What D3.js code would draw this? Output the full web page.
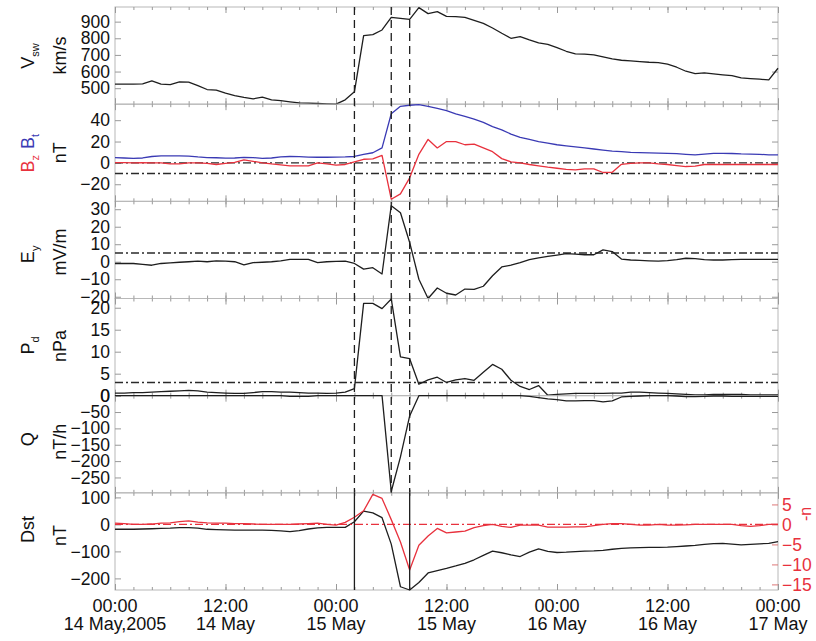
<!DOCTYPE html>
<html>
<head>
<meta charset="utf-8">
<script src="https://cdn.jsdelivr.net/npm/d3@7"></script>
<style>
  body { margin: 0; background: #fff; }
  text { font-family: "Liberation Sans", Arial, sans-serif; }
</style>
</head>
<body>
<div id="chart"></div>
<script>
// hourly values, 00:00 14 May 2005 .. 00:00 17 May 2005 (73 points)
const vsw = [524,524,524,526,544,524,522,538,537,516,
  492,488,470,456,445,436,446,430,425,418,
  412,410,408,406,404,430,478,816,822,850,
  926,920,914,984,948,960,932,930,926,908,
  890,862,830,800,810,790,772,764,744,722,
  706,705,700,688,676,668,664,660,656,654,
  644,626,602,588,592,586,580,575,562,558,
  554,550,620];
const bt = [5,4.6,4.2,4.6,6,6.5,6.6,6.6,6.4,5.6,
  5,4.8,4.4,4.6,5.2,5,4.2,4.6,5.6,6,
  5.8,5.4,5.3,5.3,5.4,5.6,6,8,9.5,14,
  46,53,54,54.5,53,51,49,46,43.5,41,
  38,34,31,27,24,22,20,18.5,17,16,
  15,14,13,12,11,10.5,9.8,9.6,9.4,9.2,
  9,8.6,8,7.5,8.2,9,9,8.8,8.4,8.2,
  8,7.6,7.5];
const bz = [0.3,0.2,0,0.3,0,0,-1,-1,0,0,
  -0.5,-1.5,-0.5,0.5,2.8,1.5,0,-1,-1.8,-2.8,
  -2.8,-2.8,0,-1,-2,-1.5,1,3.4,3.7,7,
  -34,-29,-14,8,22,14,20,20,17,17.5,
  14,10.5,4,1,0,-1.5,-2.8,-4,-5,-6,
  -6.6,-5.6,-5.6,-9,-8.8,-1.3,-0.5,0,0,-1,
  -1.5,-2.5,-3.4,-3,-1.5,-1.5,-1.5,-1.5,-1.5,-1.5,
  -1.5,-1.5,-1.5];
const ey = [-1,-1,-1,-1.5,-2,-1,-0.7,-0.3,0,0.3,
  0,0.5,0.3,0,-1.8,-0.5,-0.3,0,0.5,1.3,
  1.3,1.3,-0.5,0,0.2,0.3,-1,-4.2,-3.4,-7,
  32,28,11,-10,-21,-15,-18,-19,-15.6,-15.8,
  -14,-8,-3,-2,-0.5,1.2,2.2,3,3.8,4.6,
  4.4,4,4,6.8,5.8,1.5,1,0.8,0.5,0.3,
  0.6,1.2,2,1.8,1.2,1,1,1.2,1.3,1.3,
  1.3,1.3,1.3];
const pd = [0.6,0.6,0.7,0.7,0.8,0.9,1.0,1.1,1.2,1.1,
  0.8,0.7,0.6,0.5,0.5,0.7,0.9,0.9,0.8,0.8,
  0.7,0.6,0.6,0.5,0.6,0.8,1.6,21,21,19.8,
  22,8.8,8.4,2.6,3.6,4.2,3,3.6,3.9,3.5,
  5.3,7.1,6,3.5,2.1,1.4,2.3,0.1,0.3,0.4,
  0.5,0.5,0.5,0.5,0.6,0.6,0.8,0.8,0.7,0.6,
  0.5,0.4,0.3,0.2,0.2,0.3,0.3,0.3,0.3,0.2,
  0.2,0.2,0.2];
const q = [0,0,0,0,0,0,0,0,0,0,
  0,0,0,0,0,0,0,0,0,-2,
  -2,-2,0,0,0,0,0,0,0,0,
  -293,-187,-62,0,0,0,0,0,0,0,
  0,0,0,0,0,-2,-6,-10,-12,-16,
  -16,-15,-15,-19,-16,-4,-2,-1,0,0,
  0,-1,-3,-3,-2,-1,-1,-2,-2,-2,
  -2,-2,-2];
const dst = [-18,-18,-18,-17,-16,-15,-14,-12,-12,-14,
  -18,-19,-20,-21,-21,-21,-21,-22,-24,-27,
  -23,-17,-13,-11,-11,-11,10,49,43,25,
  -73,-231,-243,-215,-180,-171,-163,-154,-144,-131,
  -115,-99,-105,-113,-119,-103,-91,-100,-104,-103,
  -101,-99,-98,-96,-92,-89,-87,-86,-85,-85,
  -84,-82,-80,-78,-74,-71,-70,-73,-76,-74,
  -72,-70,-64];
const dstRed = [0.3,0.2,0,0,0.1,0.3,0.4,0.7,0.9,0.6,
  0.4,0.3,0.3,0.2,0.2,0.1,0,0,0,0,
  0.1,0.2,0.3,0,-0.2,0.5,1.8,3.4,7.5,6.5,
  1.2,-4.4,-11.4,-5.2,-2.9,-1,-2.1,-1.9,-1.7,-0.8,
  -0.3,0,-0.5,-0.75,-0.2,-0.2,-0.2,-0.7,-0.7,-0.7,
  -0.6,-0.6,-0.3,0,0.2,0.2,0,-0.2,-0.2,0,
  -0.2,-0.2,-0.1,0,0,0,0,0,-0.3,-0.5,
  -0.3,0,0];

// tick values
const vswTicks = [500, 600, 700, 800, 900];
const bTicks = [-20, 0, 20, 40];
const eyTicks = [-20, -10, 0, 10, 20, 30];
const pdTicks = [0, 5, 10, 15, 20];
const qTicks = [-250, -200, -150, -100, -50, 0];
const dstTicks = [-200, -100, 0, 100];
const redTicks = [-15, -10, -5, 0, 5];
const timeTickLabels = [["00:00", "14 May,2005"], ["12:00", "14 May"], ["00:00", "15 May"],
  ["12:00", "15 May"], ["00:00", "16 May"], ["12:00", "16 May"], ["00:00", "17 May"]];
const eventHours = [26, 30, 32];
const dstEventHours = [26, 32];

const black = "#1e1e1e", blue = "#3a3ab4", red = "#e8313d";

// svg container
const svgWidth = 816, svgHeight = 641;
const plotLeft = 115, plotRight = 778, plotTop = 7, plotBottom = 590;
const chartWidth = plotRight - plotLeft;
const panelHeight = (plotBottom - plotTop) / 6;

const svg = d3.select("#chart").append("svg")
  .attr("width", svgWidth)
  .attr("height", svgHeight);

const chartGroup = svg.append("g")
  .attr("transform", `translate(${plotLeft}, 0)`);

// time scale
const start = Date.UTC(2005, 4, 14);
const times = d3.range(vsw.length).map(h => new Date(start + h * 3600e3));
const xScale = d3.scaleUtc()
  .domain([times[0], times[times.length - 1]])
  .range([0, chartWidth]);
const majorTimes = xScale.ticks(d3.utcHour.every(12));
const minorTimes = xScale.ticks(d3.utcHour.every(2));

const panels = [
  { domain: [404, 988], ticks: vswTicks, series: [[vsw, black]], refs: [],
    label: [[{ t: "V" }, { t: "sw", sub: true }]], unit: "km/s", ly: 0 },
  { domain: [-36, 55], ticks: bTicks, series: [[bt, blue], [bz, red]], refs: [0, -10],
    label: [[{ t: "B", c: red }, { t: "z", sub: true, c: red }, { t: " B", c: blue }, { t: "t", sub: true, c: blue }]], unit: "nT", ly: 0 },
  { domain: [-21, 34.5], ticks: eyTicks, series: [[ey, black]], refs: [5],
    label: [[{ t: "E" }, { t: "y", sub: true }]], unit: "mV/m", ly: 4 },
  { domain: [0, 22.1], ticks: pdTicks, series: [[pd, black]], refs: [3],
    label: [[{ t: "P" }, { t: "d", sub: true }]], unit: "nPa", ly: -2 },
  { domain: [-297, 0], ticks: qTicks, series: [[q, black]], refs: [],
    label: [[{ t: "Q" }]], unit: "nT/h", ly: -5 },
  { domain: [-243, 117], ticks: dstTicks, series: [[dst, black]], refs: [],
    label: [[{ t: "Dst" }]], unit: "nT", ly: -12 }
];

const lastY = {};

panels.forEach((p, i) => {
  const top = plotTop + i * panelHeight;
  const bottom = top + panelHeight;
  const y = d3.scaleLinear().domain(p.domain).range([bottom, top]);
  lastY.scale = y; lastY.top = top; lastY.bottom = bottom;
  const g = chartGroup.append("g");

  // frame
  g.append("rect")
    .attr("x", 0).attr("y", top)
    .attr("width", chartWidth).attr("height", panelHeight)
    .attr("fill", "none").attr("stroke", "#b8b8b8");

  // time ticks, top and bottom
  [[d3.axisBottom, bottom], [d3.axisTop, top]].forEach(([ax, yy]) => {
    g.append("g").attr("transform", `translate(0, ${yy})`)
      .call(ax(xScale).tickValues(minorTimes).tickSize(-3).tickFormat(""))
      .call(s => s.select(".domain").remove())
      .selectAll("line").attr("stroke", "#999");
    g.append("g").attr("transform", `translate(0, ${yy})`)
      .call(ax(xScale).tickValues(majorTimes).tickSize(-6).tickFormat(""))
      .call(s => s.select(".domain").remove())
      .selectAll("line").attr("stroke", "#999");
  });

  // left axis
  const left = g.append("g")
    .call(d3.axisLeft(y).tickValues(p.ticks).tickSize(-6).tickPadding(5))
    .call(s => s.select(".domain").remove());
  left.selectAll("line").attr("stroke", "#999");
  left.selectAll("text").attr("font-size", 17.5).attr("fill", "#111")
    .attr("font-family", "Liberation Sans, Arial, sans-serif");

  // right mirrored ticks (not on the Dst panel)
  if (i < 5) {
    g.append("g").attr("transform", `translate(${chartWidth}, 0)`)
      .call(d3.axisRight(y).tickValues(p.ticks).tickSize(-6).tickFormat(""))
      .call(s => s.select(".domain").remove())
      .selectAll("line").attr("stroke", "#999");
  }

  // reference dash-dot lines
  p.refs.forEach(r => {
    g.append("line")
      .attr("x1", 0).attr("x2", chartWidth)
      .attr("y1", y(r)).attr("y2", y(r))
      .attr("stroke", "#2a2a2a").attr("stroke-width", 1.4)
      .attr("stroke-dasharray", "8,3,2,3");
  });

  // series
  const line = d3.line()
    .x((d, j) => xScale(times[j]))
    .y(d => y(d));
  p.series.forEach(([vals, col]) => {
    g.append("path")
      .datum(vals)
      .attr("d", line)
      .attr("fill", "none")
      .attr("stroke", col)
      .attr("stroke-width", 1.3)
      .attr("stroke-linejoin", "round");
  });

  // y labels (rotated)
  const cy = (top + bottom) / 2 + p.ly;
  const lab = svg.append("text")
    .attr("transform", `translate(28, ${cy}) rotate(-90)`)
    .attr("text-anchor", "middle")
    .attr("dy", "0.35em")
    .attr("font-size", 18)
    .attr("fill", "#111");
  p.label[0].forEach(seg => {
    const ts = lab.append("tspan").text(seg.t);
    if (seg.c) ts.attr("fill", seg.c);
    if (seg.sub) {
      ts.attr("font-size", 11).attr("dy", 5);
      lab.append("tspan").attr("font-size", 11).attr("dy", -5).text("\u200a");
    }
  });
  svg.append("text")
    .attr("transform", `translate(60, ${(top + bottom) / 2 + p.ly / 2}) rotate(-90)`)
    .attr("text-anchor", "middle")
    .attr("dy", "0.35em")
    .attr("font-size", 18)
    .attr("fill", "#111")
    .text(p.unit);
});

// red right axis on Dst panel
const yRed = d3.scaleLinear().domain([-16.4, 7.9]).range([lastY.bottom, lastY.top]);
const rightAxis = chartGroup.append("g")
  .attr("transform", `translate(${chartWidth}, 0)`)
  .call(d3.axisRight(yRed).tickValues(redTicks).tickSize(-6).tickPadding(4))
  .call(s => s.select(".domain").remove());
rightAxis.selectAll("line").attr("stroke", "#d77");
rightAxis.selectAll("text").attr("font-size", 17.5).attr("fill", red)
  .attr("font-family", "Liberation Sans, Arial, sans-serif");

chartGroup.append("line")
  .attr("x1", 0).attr("x2", chartWidth)
  .attr("y1", yRed(0)).attr("y2", yRed(0))
  .attr("stroke", red).attr("stroke-width", 1.4)
  .attr("stroke-dasharray", "8,3,2,3");

chartGroup.append("path")
  .datum(dstRed)
  .attr("d", d3.line().x((d, j) => xScale(times[j])).y(d => yRed(d)))
  .attr("fill", "none")
  .attr("stroke", red)
  .attr("stroke-width", 1.3)
  .attr("stroke-linejoin", "round");

svg.append("text")
  .attr("transform", `translate(811, 514) rotate(-90)`)
  .attr("text-anchor", "middle")
  .attr("font-size", 16)
  .attr("fill", red)
  .text("-n");

// event lines: dashed through panels 1-5, solid in Dst panel
const dashBottom = plotTop + 5 * panelHeight;
eventHours.forEach(h => {
  const x = xScale(times[h]);
  chartGroup.append("line")
    .attr("x1", x).attr("x2", x)
    .attr("y1", plotTop).attr("y2", dashBottom)
    .attr("stroke", black).attr("stroke-width", 1.3)
    .attr("stroke-dasharray", "8,5");
});
dstEventHours.forEach(h => {
  const x = xScale(times[h]);
  chartGroup.append("line")
    .attr("x1", x).attr("x2", x)
    .attr("y1", dashBottom).attr("y2", plotBottom)
    .attr("stroke", black).attr("stroke-width", 1.3);
});

// time labels
majorTimes.forEach((t, k) => {
  const tx = chartGroup.append("text")
    .attr("text-anchor", "middle")
    .attr("font-size", 18)
    .attr("fill", "#111");
  tx.append("tspan").attr("x", xScale(t)).attr("y", 612).text(timeTickLabels[k][0]);
  tx.append("tspan").attr("x", xScale(t)).attr("y", 630).text(timeTickLabels[k][1]);
});
</script>
</body>
</html>
